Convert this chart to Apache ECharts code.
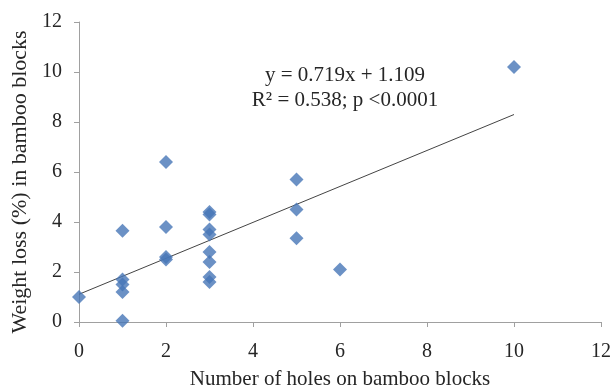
<!DOCTYPE html>
<html>
<head>
<meta charset="utf-8">
<script src="https://cdn.jsdelivr.net/npm/echarts@6/dist/echarts.min.js"></script>
<style>
html, body { margin: 0; padding: 0; background: #fff; }
#chart { width: 615px; height: 390px; }
</style>
</head>
<body>
<div id="chart"></div>
<script>
// holes on the block (x) and weight loss % (y)
var holes = [0, 1, 1, 1, 1, 1, 2, 2, 2, 2, 3, 3, 3, 3, 3, 3, 3, 3, 5, 5, 5, 6, 10];
var loss = [1.0, 3.65, 1.7, 1.5, 1.2, 0.05, 6.4, 3.8, 2.6, 2.5, 4.4, 4.3, 3.7, 3.5, 2.8, 2.4, 1.8, 1.6, 5.7, 4.5, 3.35, 2.1, 10.2];

// fitted line from the figure
var slope = 0.719;
var intercept = 1.109;
var fitX = [0, 10];

var eqText = ['y = 0.719x + 1.109', 'R\u00b2 = 0.538; p <0.0001'];

var points = [];
for (var i = 0; i < holes.length; i++) {
    points.push([holes[i], loss[i]]);
}
var fitLine = [];
for (var j = 0; j < fitX.length; j++) {
    fitLine.push([fitX[j], slope * fitX[j] + intercept]);
}

var chart = echarts.init(document.getElementById('chart'));
var serif = '"Liberation Serif", "Times New Roman", serif';
var axisGray = '#a0a0a0';
var textColor = '#262626';

var option = {
    backgroundColor: '#fff',
    animation: false,
    grid: { left: 79, right: 14, top: 22, bottom: 68, outerBoundsMode: 'none' },
    xAxis: {
        type: 'value',
        min: 0, max: 12, interval: 2,
        name: 'Number of holes on bamboo blocks',
        nameLocation: 'middle',
        nameGap: 47,
        nameTextStyle: { fontFamily: serif, fontSize: 21, color: textColor },
        axisLine: { onZero: false, lineStyle: { color: axisGray } },
        axisTick: { show: true, length: 5, lineStyle: { color: axisGray } },
        axisLabel: { fontFamily: serif, fontSize: 20, color: textColor, margin: 20 },
        splitLine: { show: false }
    },
    yAxis: {
        type: 'value',
        min: 0, max: 12, interval: 2,
        name: 'Weight loss (%) in bamboo blocks',
        nameLocation: 'middle',
        nameGap: 46,
        nameTextStyle: { fontFamily: serif, fontSize: 22, color: textColor, padding: [0, 20, 0, 0] },
        axisLine: { show: true, lineStyle: { color: axisGray } },
        axisTick: { show: true, length: 5, lineStyle: { color: axisGray } },
        axisLabel: { fontFamily: serif, fontSize: 20, color: textColor, margin: 17 },
        splitLine: { show: false }
    },
    graphic: [{
        type: 'text',
        x: 345,
        y: 63,
        style: {
            text: eqText.join('\n'),
            fontFamily: serif,
            fontSize: 21,
            lineHeight: 25,
            fill: textColor,
            align: 'center'
        }
    }],
    series: [{
        type: 'line',
        data: fitLine,
        symbol: 'none',
        lineStyle: { color: '#444', width: 1 },
        z: 1
    }, {
        type: 'scatter',
        data: points,
        symbol: 'diamond',
        symbolSize: 14,
        itemStyle: { color: '#4676b6' },
        z: 2
    }]
};

chart.setOption(option);
</script>
</body>
</html>
